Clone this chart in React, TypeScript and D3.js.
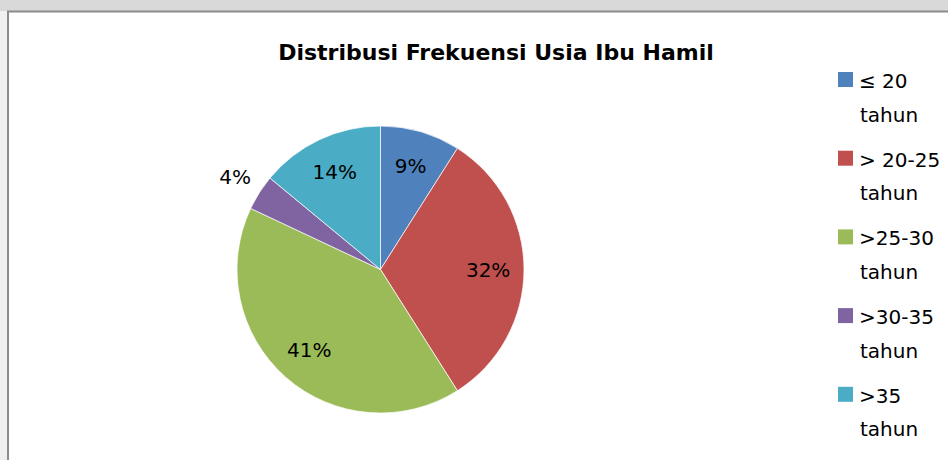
import { useEffect, useRef } from 'react';
import * as d3 from 'd3';

// data
const categories = ['≤ 20', '> 20-25', '>25-30', '>30-35', '>35'];
const unitLabel = 'tahun';
const values = [9, 32, 41, 4, 14];
const colors = ['#4f81bd', '#c0504d', '#9bbb59', '#8064a2', '#4bacc6'];
const title = 'Distribusi Frekuensi Usia Ibu Hamil';

const W = 948;
const H = 460;
const FONT = "'DejaVu Sans', sans-serif";

export default function App() {
  const svgRef = useRef<SVGSVGElement>(null);

  useEffect(() => {
    if (!svgRef.current) return;
    const svg = d3.select(svgRef.current);
    svg.selectAll('*').remove();

    // scanned page backdrop + chart frame
    svg.append('rect').attr('width', W).attr('height', H).attr('fill', '#f0f0f0');
    svg.append('rect').attr('width', W).attr('height', 11).attr('fill', '#d9d9d9');
    svg.append('rect').attr('x', 8).attr('y', 11.5).attr('width', W).attr('height', H)
      .attr('fill', '#fff');
    svg.append('path')
      .attr('d', `M8,${H} V11.5 H${W}`)
      .attr('fill', 'none')
      .attr('stroke', '#8c8c8c')
      .attr('stroke-width', 2);

    svg.append('text')
      .attr('x', 496)
      .attr('y', 60)
      .attr('text-anchor', 'middle')
      .style('font-family', FONT)
      .style('font-weight', 'bold')
      .style('font-size', '22px')
      .style('fill', '#000')
      .text(title);

    const cx = 380.5;
    const cy = 269.5;
    const r = 143.5;

    const pie = d3.pie<number>().sort(null).value(d => d);
    const arcs = pie(values);
    const arc = d3.arc<d3.PieArcDatum<number>>().innerRadius(0).outerRadius(r);
    const inner = d3.arc<d3.PieArcDatum<number>>().innerRadius(r * 0.75).outerRadius(r * 0.75);
    const outer = d3.arc<d3.PieArcDatum<number>>().innerRadius(r * 1.2).outerRadius(r * 1.2);

    const g = svg.append('g').attr('transform', `translate(${cx},${cy})`);

    g.selectAll('.slice')
      .data(arcs)
      .enter()
      .append('path')
      .attr('class', 'slice')
      .attr('d', arc)
      .attr('fill', (_, i) => colors[i])
      .attr('stroke', '#fff')
      .attr('stroke-width', 0.7);

    const total = d3.sum(values);
    g.selectAll('.lbl')
      .data(arcs)
      .enter()
      .append('text')
      .attr('class', 'lbl')
      .attr('transform', d => {
        // small slices get their label outside the pie
        const p = d.data / total < 0.05 ? outer.centroid(d) : inner.centroid(d);
        return `translate(${p[0]},${p[1]})`;
      })
      .attr('text-anchor', 'middle')
      .attr('dy', '0.36em')
      .style('font-family', FONT)
      .style('font-size', '20px')
      .style('fill', '#000')
      .text(d => `${Math.round((d.data / total) * 100)}%`);

    // legend
    const legend = svg.append('g');
    const y = d3.scaleBand<string>().domain(categories).range([72, 72 + 78.7 * 5]);
    const item = legend.selectAll('.item')
      .data(categories)
      .enter()
      .append('g')
      .attr('class', 'item')
      .attr('transform', d => `translate(838,${y(d)})`);

    item.append('rect')
      .attr('width', 15)
      .attr('height', 15)
      .attr('fill', (_, i) => colors[i]);

    const t = item.append('text')
      .style('font-family', FONT)
      .style('font-size', '20px')
      .style('fill', '#000');
    t.append('tspan').attr('x', 21).attr('y', 16).text(d => d);
    t.append('tspan').attr('x', 22).attr('y', 49.5).text(unitLabel);
  }, []);

  return (
    <div style={{ position: 'fixed', left: 0, top: 0 }}>
      <svg ref={svgRef} width={W} height={H} style={{ display: 'block' }} />
    </div>
  );
}
